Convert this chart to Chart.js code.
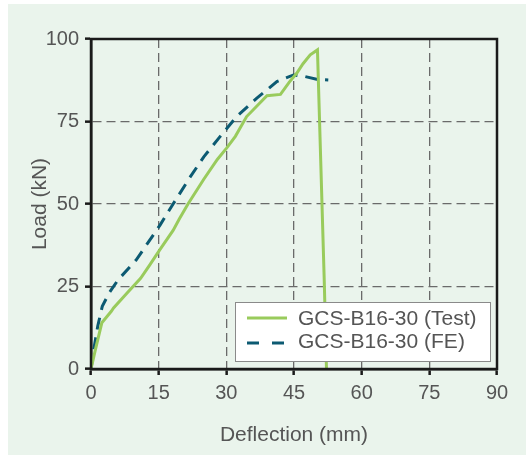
<!DOCTYPE html>
<html>
<head>
<meta charset="utf-8">
<script src="https://cdn.jsdelivr.net/npm/chart.js@4.4.1/dist/chart.umd.min.js"></script>
<style>
  html, body { margin: 0; padding: 0; background: #ffffff; }
  #wrap { position: relative; width: 526px; height: 455px; }
</style>
</head>
<body>
<div id="wrap"><canvas id="loadChart" width="526" height="455"></canvas></div>
<script>
// deflection (mm) / load (kN)
var testDeflection = [0, 1, 2.4, 3, 4.5, 5, 8, 11, 13, 15.2, 18.2, 19.6, 21.5, 25, 28, 30.1, 32, 34.5, 37, 39, 42, 44, 45.6, 47, 48.6, 50.2, 51.7, 52.2];
var testLoad       = [0, 6, 14, 15, 17.5, 18.5, 23, 27.5, 31.5, 36, 42, 45.5, 50, 57.5, 63.5, 67, 70.5, 76.5, 80, 82.8, 83.2, 87, 89.6, 92.5, 95.2, 96.7, 27, 0];

var feDeflection = [0, 0.5, 1.5, 2.5, 4, 6, 10, 15.3, 18.2, 21.9, 25, 28.6, 32.3, 36.7, 41.2, 44.9, 47.5, 50, 52.6];
var feLoad       = [0, 5, 13, 19, 23, 27, 33, 43.6, 50, 58, 64.3, 70.4, 76.5, 82, 87.1, 89.1, 88.6, 87.8, 87.6];

var xTicks = [0, 15, 30, 45, 60, 75, 90];
var yTicks = [0, 25, 50, 75, 100];

var seriesNames = ["GCS-B16-30 (Test)", "GCS-B16-30 (FE)"];

var greenColor = "#99cb5c";
var feColor = "#0c5a72";
var textColor = "#555555";
var fontFamily = "'Liberation Sans', Arial, sans-serif";

function toPoints(xs, ys) {
    var pts = [];
    for (var i = 0; i < xs.length; i++) {
        pts.push({ x: xs[i], y: ys[i] });
    }
    return pts;
}

// page background: white strip on left/top, pale green panel
var backgroundPlugin = {
    id: 'panelBackground',
    beforeDraw: function (chart) {
        var ctx = chart.ctx;
        ctx.save();
        ctx.fillStyle = "#ffffff";
        ctx.fillRect(0, 0, chart.width, chart.height);
        ctx.fillStyle = "#eaf4ec";
        ctx.fillRect(8, 4, chart.width - 8, chart.height - 4);
        ctx.restore();
    }
};

// frame around plot area + legend box inside it
var framePlugin = {
    id: 'frameAndLegend',
    afterDatasetsDraw: function (chart) {
        var ctx = chart.ctx;
        var a = chart.chartArea;
        ctx.save();

        // legend box
        var bx = 235, by = 302, bw = 255, bh = 59;
        ctx.fillStyle = "#ffffff";
        ctx.fillRect(bx, by, bw, bh);
        ctx.strokeStyle = "#8a8a8a";
        ctx.lineWidth = 1;
        ctx.strokeRect(bx + 0.5, by + 0.5, bw, bh);

        ctx.lineWidth = 3;
        ctx.strokeStyle = greenColor;
        ctx.setLineDash([]);
        ctx.beginPath();
        ctx.moveTo(247, 318);
        ctx.lineTo(287, 318);
        ctx.stroke();

        ctx.strokeStyle = feColor;
        ctx.setLineDash([12, 13]);
        ctx.beginPath();
        ctx.moveTo(247, 343);
        ctx.lineTo(287, 343);
        ctx.stroke();
        ctx.setLineDash([]);

        ctx.fillStyle = textColor;
        ctx.font = "21px " + fontFamily;
        ctx.textBaseline = "middle";
        ctx.textAlign = "left";
        ctx.fillText(seriesNames[0], 298, 319);
        ctx.fillText(seriesNames[1], 298, 342);

        // plot frame
        ctx.strokeStyle = "#1a1a1a";
        ctx.lineWidth = 2.5;
        ctx.strokeRect(a.left, a.top, a.right - a.left, a.bottom - a.top);
        ctx.restore();
    }
};

var ctx = document.getElementById('loadChart').getContext('2d');
var loadChart = new Chart(ctx, {
    type: 'line',
    data: {
        datasets: [
            {
                label: seriesNames[0],
                data: toPoints(testDeflection, testLoad),
                borderColor: greenColor,
                borderWidth: 3,
                pointRadius: 0,
                tension: 0,
                fill: false
            },
            {
                label: seriesNames[1],
                data: toPoints(feDeflection, feLoad),
                borderColor: feColor,
                borderWidth: 3,
                borderDash: [12, 8],
                pointRadius: 0,
                tension: 0,
                fill: false
            }
        ]
    },
    options: {
        responsive: false,
        animation: false,
        devicePixelRatio: 1,
        layout: { padding: { top: 39, right: 29, left: 0, bottom: 0 } },
        plugins: {
            legend: { display: false },
            tooltip: { enabled: false }
        },
        scales: {
            x: {
                type: 'linear',
                min: 0,
                max: 90,
                afterFit: function (scale) { scale.height = 86; },
                afterBuildTicks: function (scale) {
                    scale.ticks = xTicks.map(function (v) { return { value: v }; });
                },
                ticks: {
                    color: textColor,
                    padding: 6,
                    maxRotation: 0,
                    font: { family: fontFamily, size: 20 }
                },
                grid: {
                    color: "#6a6a6a",
                    lineWidth: 1.3,
                    tickLength: 6,
                    tickColor: "#1a1a1a",
                    tickWidth: 2.5,
                    tickBorderDash: []
                },
                border: { color: "#1a1a1a", width: 2.5, dash: [9, 5] },
                title: {
                    display: true,
                    text: 'Deflection (mm)',
                    color: textColor,
                    padding: { top: 0, bottom: 7 },
                    font: { family: fontFamily, size: 21 }
                }
            },
            y: {
                type: 'linear',
                min: 0,
                max: 100,
                afterFit: function (scale) { scale.width = 91; },
                afterBuildTicks: function (scale) {
                    scale.ticks = yTicks.map(function (v) { return { value: v }; });
                },
                ticks: {
                    color: textColor,
                    padding: 6,
                    font: { family: fontFamily, size: 20 }
                },
                grid: {
                    color: "#6a6a6a",
                    lineWidth: 1.3,
                    tickLength: 6,
                    tickColor: "#1a1a1a",
                    tickWidth: 2.5,
                    tickBorderDash: []
                },
                border: { color: "#1a1a1a", width: 2.5, dash: [9, 5] },
                title: {
                    display: true,
                    text: 'Load (kN)',
                    color: textColor,
                    padding: { top: 28, bottom: 0 },
                    font: { family: fontFamily, size: 21 }
                }
            }
        }
    },
    plugins: [backgroundPlugin, framePlugin]
});
</script>
</body>
</html>
